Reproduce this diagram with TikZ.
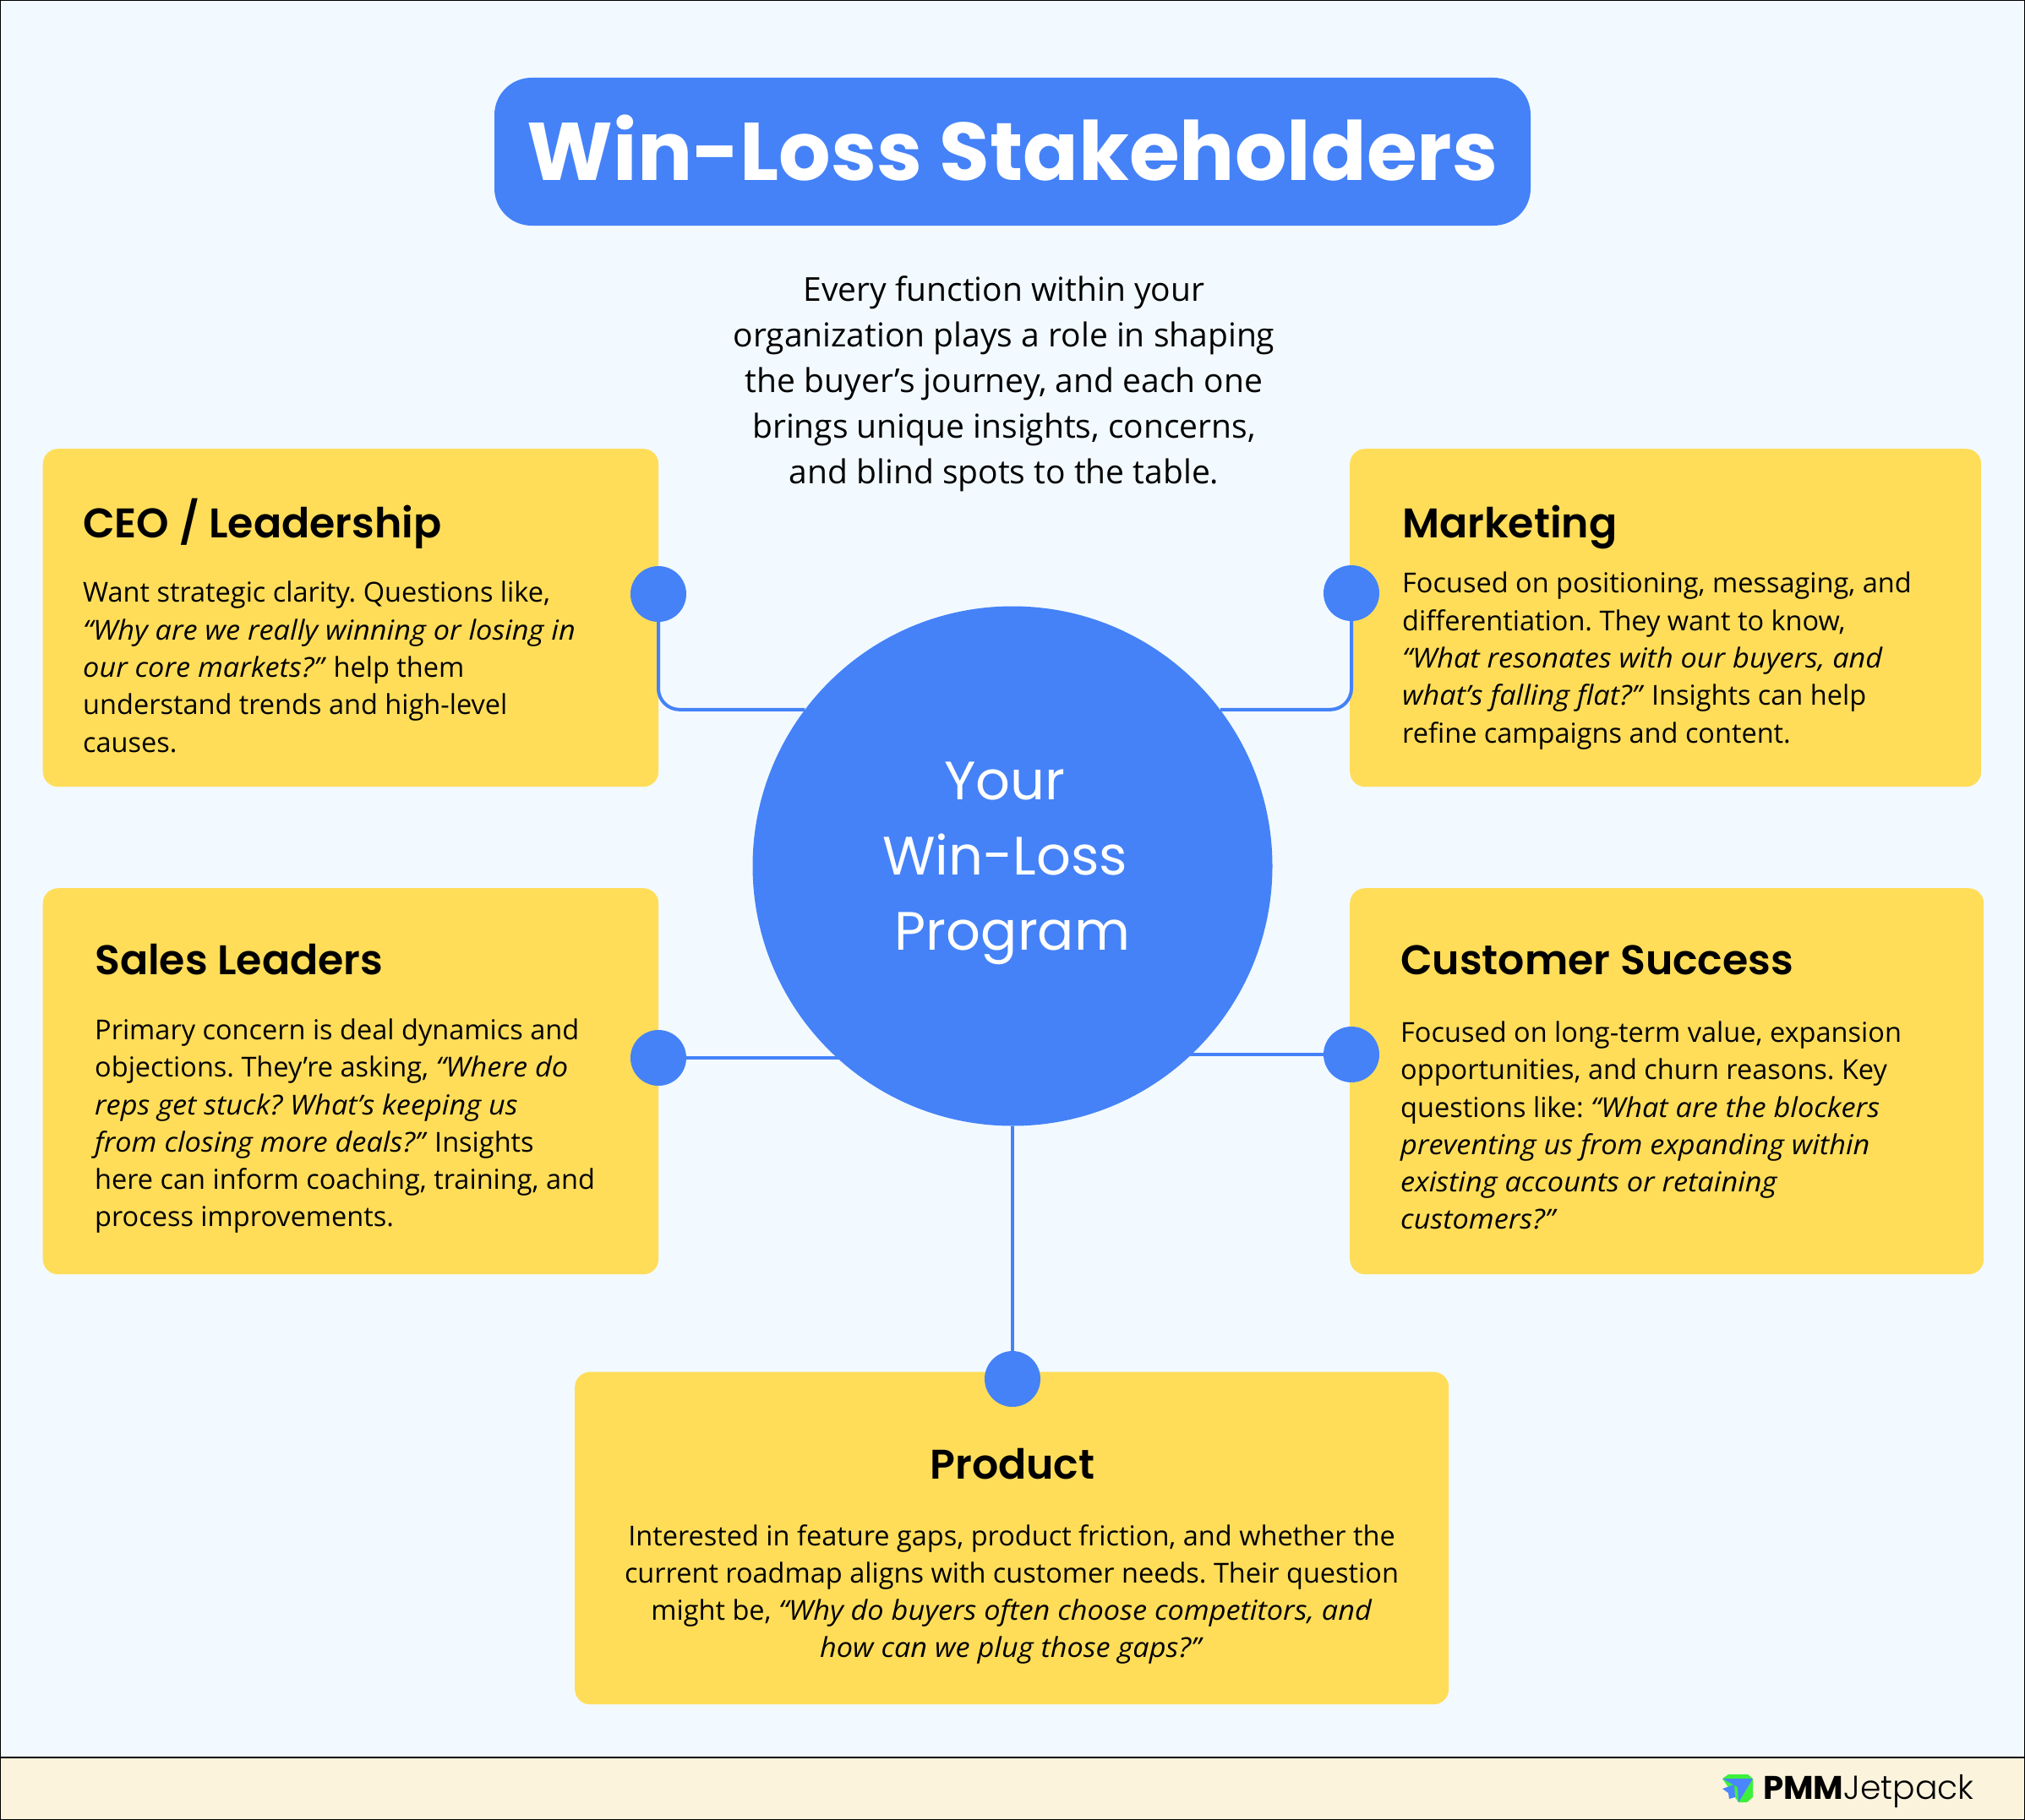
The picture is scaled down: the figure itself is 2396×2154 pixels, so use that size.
\documentclass[tikz,border=0pt]{standalone}
\usepackage{fontspec}
\setmainfont{Open Sans}[ItalicFeatures={FakeStretch=1.055}]
\newfontfamily\ptitle{Poppins}[UprightFont=* Bold]
\newfontfamily\phead{Poppins}[UprightFont=* SemiBold]
\newfontfamily\plight{Poppins}[UprightFont=* Light]
\newfontfamily\preg{Poppins}
\definecolor{bgblue}{HTML}{F2FAFF}
\definecolor{footbg}{HTML}{FBF3DC}
\definecolor{brand}{HTML}{4582F8}
\definecolor{card}{HTML}{FFDD59}
\definecolor{logogreen}{HTML}{3DF03D}
\definecolor{logoblue}{HTML}{4A86FF}
\newcommand{\bodyfont}{\frenchspacing\fontsize{32.5}{44.3}\selectfont}
\newcommand{\introfont}{\frenchspacing\fontsize{39}{54}\selectfont}
\newcommand{\q}[1]{\textit{#1}}
\tikzset{
  x=1pt,y=-1pt,
  cardbox/.style={fill=card,rounded corners=18pt,inner sep=0pt,anchor=north west},
  dotnode/.style={circle,fill=brand,minimum size=66pt,inner sep=0pt},
  link/.style={draw=brand,line width=4pt},
  heading/.style={anchor=base west,inner sep=0pt,font=\phead\fontsize{49}{49}\selectfont},
  bodytext/.style={anchor=north west,inner sep=0pt,align=left,font=\bodyfont},
  bodycenter/.style={anchor=north,inner sep=0pt,align=center,font=\bodyfont},
  hubtext/.style={inner sep=0pt,text=white,font=\preg\fontsize{64}{66}\selectfont,anchor=base},
}
\begin{document}
\begin{tikzpicture}
\useasboundingbox (0,0) rectangle (2396,2154);
\fill[bgblue] (0,0) rectangle (2396,2080);
\fill[footbg] (0,2080) rectangle (2396,2154);
\draw[black,line width=2pt] (0,2080) -- (2396,2080);
\draw[black,line width=2pt] (0,0) rectangle (2396,2154);

\node[fill=brand,rounded corners=44pt,inner sep=0pt,minimum width=1226pt,minimum height=175pt] (title) at (1198,179.5) {};
\node[anchor=base,inner sep=0pt,text=white,font=\ptitle\fontsize{96.8}{100}\selectfont] (titletext) at (1198,214) {Win-Loss Stakeholders};

\node[anchor=north,inner sep=0pt,align=center,font=\introfont] (intro) at (1188,326.5) {Every function within your\\organization plays a role in shaping\\the buyer’s journey, and each one\\brings unique insights, concerns,\\and blind spots to the table.};

\node[cardbox,minimum width=728.5pt,minimum height=400pt] (ceo) at (50.5,531) {};
\node[cardbox,minimum width=747pt,minimum height=400pt] (mkt) at (1597,531) {};
\node[cardbox,minimum width=728.5pt,minimum height=457pt] (sales) at (50.5,1051) {};
\node[cardbox,minimum width=750pt,minimum height=457pt] (cs) at (1597,1051) {};
\node[cardbox,minimum width=1034pt,minimum height=393.5pt] (prod) at (680,1623.5) {};

\node[circle,fill=brand,minimum size=615pt,inner sep=0pt] (hub) at (1198,1025) {};
\node[hubtext] (hub1) at (1189,946) {Your};
\node[hubtext] (hub2) at (1189,1035) {Win-Loss};
\node[hubtext] (hub3) at (1198,1124) {Program};

\node[dotnode] (ceodot) at (779,703) {};
\node[dotnode] (mktdot) at (1599,702) {};
\node[dotnode] (salesdot) at (779,1252) {};
\node[dotnode] (csdot) at (1599,1248) {};
\node[dotnode] (proddot) at (1198,1632) {};

\draw[link,rounded corners=25pt] (ceodot) |- (hub.143);
\draw[link,rounded corners=25pt] (mktdot) |- (hub.37);
\draw[link] (salesdot.east) -- (salesdot.east -| hub.center);
\draw[link] (csdot.west) -- (csdot.west -| hub.center);
\draw[link] (hub.south) -- (proddot.north);

\node[heading] (ceoh) at (98,636) {CEO / Leadership};
\node[bodytext] (ceob) at (98,688) {Want strategic clarity. Questions like,\\\q{“Why are we really winning or losing in}\\\q{our core markets?”} help them\\understand trends and high-level\\causes.};

\node[heading] (mkth) at (1659,636) {Marketing};
\node[bodytext] (mktb) at (1659,677) {Focused on positioning, messaging, and\\differentiation. They want to know,\\\q{“What resonates with our buyers, and}\\\q{what’s falling flat?”} Insights can help\\refine campaigns and content.};

\node[heading] (salesh) at (112,1153) {Sales Leaders};
\node[bodytext] (salesb) at (112,1205.5) {Primary concern is deal dynamics and\\objections. They’re asking, \q{“Where do}\\\q{reps get stuck? What’s keeping us}\\\q{from closing more deals?”} Insights\\here can inform coaching, training, and\\process improvements.};

\node[heading] (csh) at (1657,1153) {Customer Success};
\node[bodytext] (csb) at (1657,1208.5) {Focused on long-term value, expansion\\opportunities, and churn reasons. Key\\questions like: \q{“What are the blockers}\\\q{preventing us from expanding within}\\\q{existing accounts or retaining}\\\q{customers?”}};

\node[heading,anchor=base] (prodh) at (1198,1750) {Product};
\node[bodycenter] (prodb) at (1197,1804) {Interested in feature gaps, product friction, and whether the\\current roadmap aligns with customer needs. Their question\\might be, \q{“Why do buyers often choose competitors, and}\\\q{how can we plug those gaps?”}};

\fill[logogreen] (2038,2105) -- (2045,2100) -- (2068,2100) -- (2074,2105) -- (2074,2127) -- (2067,2133) -- (2057,2133) -- cycle;
\fill[logoblue] (2038,2105) -- (2074,2105) -- (2057,2133) -- (2056,2115) -- cycle;
\fill[logoblue] (2038,2117) -- (2052,2112) -- (2053,2127) -- (2046,2129) -- (2045,2122) -- cycle;
\node[anchor=base west,inner sep=0pt,font=\ptitle\fontsize{38.7}{39}\selectfont] (logotext) at (2086,2129) {PMM\plight\fontsize{39.3}{39}\selectfont Jetpack};
\end{tikzpicture}
\end{document}
